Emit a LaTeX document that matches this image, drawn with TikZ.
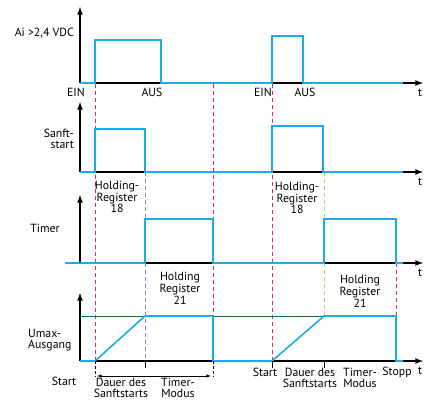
\documentclass[tikz,border=0pt]{standalone}
\usepackage{fontspec}
\setmainfont{PT Sans}
\begin{document}
\begin{tikzpicture}[x=1pt, y=-1pt, font=\fontsize{11.8}{10.5}\selectfont]
    \definecolor{signalColour}{HTML}{1EAAE6}
    \definecolor{startColour}{HTML}{E6188C}
    \definecolor{softColour}{HTML}{7F8CC4}
    \definecolor{timerColour}{HTML}{B4D46C}
    \definecolor{limitColour}{HTML}{1E6E3C}

    \tikzset{
        axisLine/.style={black, line width=1.6pt, -latex},
        signal/.style={signalColour, line width=1.6pt, line join=miter},
        marker/.style={dashed, dash pattern=on 4pt off 3pt, line width=0.8pt},
        label/.style={inner sep=0pt, align=center},
    }

    \useasboundingbox (0,0) rectangle (427,401);

    % Draw marker lines
    \draw[marker, startColour] (95,84) -- (95,361);
    \draw[marker, startColour] (213,84) -- (213,361);
    \draw[marker, startColour] (272,84) -- (272,361);
    \draw[marker, startColour] (396,263) -- (396,316);
    \draw[marker, softColour] (145,172) -- (145,361);
    \draw[marker, timerColour] (324,172) -- (324,316);

    % Draw axes
    \foreach \name/\base/\top in {ai/83/7, soft/172/102, timer/263/195, umax/361/293} {
        \draw[axisLine] (80,\base) -- (80,\top);
        \draw[axisLine] (80,\base) -- (423,\base);
        \node[label] (t\name) at (420,\base+10) {t};
    }

    % Umax level
    \draw[limitColour, line width=0.8pt] (80,316) -- (396,316);

    % Signals
    \draw[signal] (80,83) -- (95,83) -- (95,40) -- (161,40) -- (161,83) -- (272,83)
        -- (272,36) -- (303,36) -- (303,83) -- (403,83);
    \draw[signal] (80,172) -- (95,172) -- (95,129) -- (145,129) -- (145,172) -- (272,172)
        -- (272,126) -- (323,126) -- (323,172) -- (403,172);
    \draw[signal] (65,263) -- (145,263) -- (145,219) -- (213,219) -- (213,263) -- (324,263)
        -- (324,219) -- (396,219) -- (396,263) -- (403,263);
    \draw[signal] (80,361) -- (95,361) -- (145,316) -- (213,316) -- (213,361) -- (272,361)
        -- (324,316) -- (396,316) -- (396,361) -- (403,361);

    % Axis labels
    \node[label, anchor=east] (aiLabel) at (74,33) {Ai >2,4 VDC};
    \node[label, anchor=east, align=right] (softLabel) at (74,139) {Sanft-\\start};
    \node[label] (timerLabel) at (45,228) {Timer};
    \node[label, anchor=west, align=left] (umaxLabel) at (28,340) {Umax-\\Ausgang};

    \node[label] (einA) at (76,92) {EIN};
    \node[label] (ausA) at (152,92) {AUS};
    \node[label] (einB) at (263,92) {EIN};
    \node[label] (ausB) at (305,92) {AUS};

    % Holding registers
    \node[label] (regSoftA) at (117,197) {Holding-\\Register\\18};
    \node[label] (regSoftB) at (297,198) {Holding-\\Register\\18};
    \node[label] (regTimerA) at (180,288) {Holding\\Register\\21};
    \node[label] (regTimerB) at (360,291) {Holding\\Register\\21};

    % Durations, first cycle
    \coordinate (startA) at (95,361);
    \coordinate (softA) at (145,361);
    \coordinate (stopA) at (213,361);
    \draw[black, dashed, dash pattern=on 3pt off 2pt, line width=0.6pt] (startA) -- ++(0,16);
    \draw[black, line width=0.6pt] (softA) -- ++(0,7);
    \draw[black, dashed, dash pattern=on 3pt off 2pt, line width=0.6pt] (stopA) -- ++(0,16);
    \draw[black, line width=0.6pt, latex-latex] ([xshift=2pt,yshift=-15pt]startA) -- ([xshift=-2pt,yshift=-15pt]stopA);

    \node[label] (startLabelA) at (64,381) {Start};
    \node[label] (softTextA) at (121,388) {Dauer des\\Sanftstarts};
    \node[label] (timerTextA) at (178,388) {Timer-\\Modus};

    % Durations, second cycle
    \coordinate (softB) at (324,361);
    \draw[black, line width=0.6pt] (272,361) -- ++(0,7);
    \draw[black, line width=0.6pt] (softB) -- ++(0,7);

    \node[label] (startLabelB) at (265,372) {Start};
    \node[label] (softTextB) at (310,378) {Dauer des\\Sanftstarts};
    \node[label] (timerTextB) at (360,378) {Timer-\\Modus};
    \node[label] (stopLabel) at (397,372) {Stopp};

\end{tikzpicture}
\end{document}
